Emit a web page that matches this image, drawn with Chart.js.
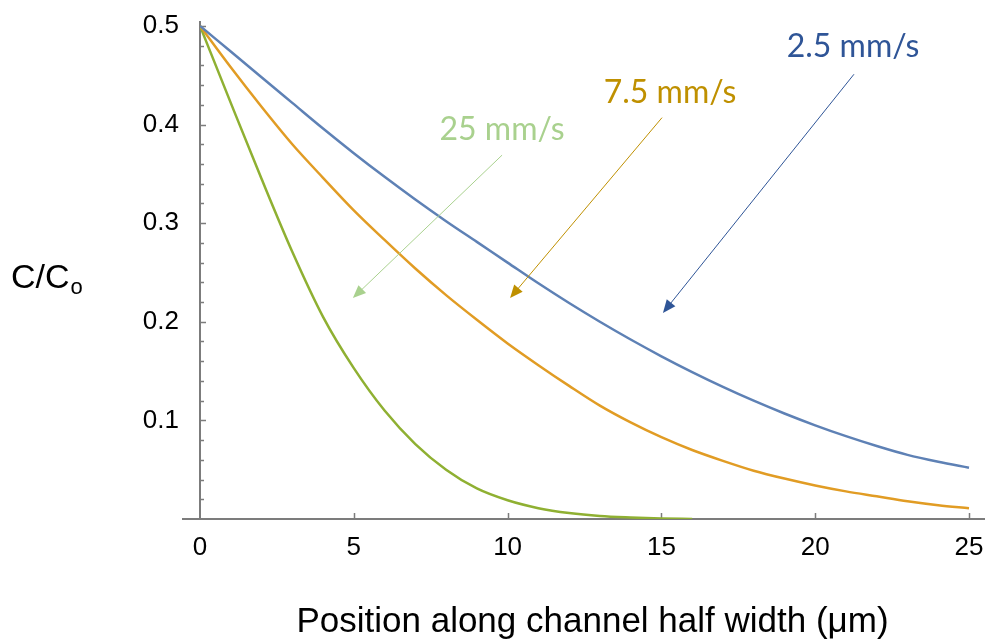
<!DOCTYPE html>
<html>
<head>
<meta charset="utf-8">
<script src="https://cdn.jsdelivr.net/npm/chart.js@4.4.1/dist/chart.umd.min.js"></script>
<style>
  html, body { margin: 0; padding: 0; background: #fff; }
  #wrap { width: 985px; height: 643px; position: relative; }
</style>
</head>
<body>
<div id="wrap"><canvas id="myChart"></canvas></div>
<script>
// position along channel half width (um)
var positions = [0, 1, 2, 3, 4, 5, 6, 7, 8, 9, 10, 11, 12, 13, 14, 15, 16, 17, 18, 19, 20, 21, 22, 23, 24, 25];

// C/Co for each flow speed
var slow = [0.5, 0.474, 0.448, 0.422, 0.396, 0.371, 0.347, 0.324, 0.302, 0.281, 0.260, 0.239, 0.219,
            0.200, 0.182, 0.165, 0.149, 0.134, 0.120, 0.107, 0.095, 0.084, 0.074, 0.065, 0.058, 0.052];   // 2.5 mm/s
var medium = [0.5, 0.458, 0.418, 0.380, 0.346, 0.313, 0.283, 0.254, 0.227, 0.202, 0.178, 0.156, 0.135,
              0.115, 0.098, 0.083, 0.070, 0.059, 0.049, 0.041, 0.034, 0.028, 0.023, 0.018, 0.014, 0.011]; // 7.5 mm/s
var fast = [0.5, 0.422, 0.345, 0.271, 0.205, 0.153, 0.110, 0.076, 0.050, 0.031, 0.019, 0.011, 0.006,
            0.003, 0.0015, 0.0005, 0];                                                                 // 25 mm/s

var xTickValues = [0, 5, 10, 15, 20, 25];
var yTickValues = [0.1, 0.2, 0.3, 0.4, 0.5];

var axisColor = '#7c7c7c';
var tickFont = '"Liberation Sans", Arial, sans-serif';

// callouts: text centre, arrow start and arrow tip in data units
var callouts = [
    { text: '2.5 mm/s', color: '#2F5597', at: [21.23, 0.479], from: [21.26, 0.451], to: [15.05, 0.209] },
    { text: '7.5 mm/s', color: '#BF9000', at: [15.28, 0.432], from: [15.02, 0.407], to: [10.08, 0.224] },
    { text: '25 mm/s', color: '#A9D18E', at: [9.82, 0.395], from: [9.82, 0.369], to: [4.97, 0.224] }
];

function toPoints(values) {
    return values.map(function(v, i) { return { x: positions[i], y: v }; });
}

var decor = {
    id: 'decor',
    beforeDatasetsDraw: function(chart) {
        var ctx = chart.ctx, x = chart.scales.x, y = chart.scales.y;
        var x0 = x.getPixelForValue(0), y0 = y.getPixelForValue(0);
        ctx.save();
        ctx.strokeStyle = axisColor;
        // little stub of the x axis left of the origin
        ctx.lineWidth = 2;
        ctx.beginPath();
        ctx.moveTo(x0 - 18, y0);
        ctx.lineTo(x0, y0);
        ctx.stroke();
        // inward ticks on the y axis, minor every 0.02
        ctx.lineWidth = 1.5;
        ctx.beginPath();
        for (var k = 1; k <= 25; k++) {
            var py = Math.round(y.getPixelForValue(k * 0.02)) + 0.5;
            var len = (k % 5 === 0) ? 6 : 4;
            ctx.moveTo(x0, py);
            ctx.lineTo(x0 + len, py);
        }
        xTickValues.forEach(function(v) {
            if (v === 0) return;
            var px = Math.round(x.getPixelForValue(v)) + 0.5;
            ctx.moveTo(px, y0);
            ctx.lineTo(px, y0 - 6);
        });
        ctx.stroke();
        ctx.restore();
    },
    afterDraw: function(chart) {
        var ctx = chart.ctx, x = chart.scales.x, y = chart.scales.y;
        ctx.save();

        // y title with subscript
        ctx.fillStyle = '#000';
        ctx.textBaseline = 'alphabetic';
        ctx.textAlign = 'left';
        ctx.font = '34px ' + tickFont;
        ctx.fillText('C/C', 11, 288);
        var w = ctx.measureText('C/C').width;
        ctx.font = '22px ' + tickFont;
        ctx.fillText('o', 11 + w + 1, 294);

        callouts.forEach(function(c) {
            var x1 = x.getPixelForValue(c.from[0]), y1 = y.getPixelForValue(c.from[1]);
            var x2 = x.getPixelForValue(c.to[0]), y2 = y.getPixelForValue(c.to[1]);
            var ang = Math.atan2(y2 - y1, x2 - x1);
            var head = 13, half = 5.5;
            ctx.strokeStyle = c.color;
            ctx.fillStyle = c.color;
            ctx.lineWidth = 1;
            ctx.beginPath();
            ctx.moveTo(x1, y1);
            ctx.lineTo(x2 - Math.cos(ang) * head * 0.8, y2 - Math.sin(ang) * head * 0.8);
            ctx.stroke();
            ctx.beginPath();
            ctx.moveTo(x2, y2);
            ctx.lineTo(x2 - Math.cos(ang) * head - Math.sin(ang) * half, y2 - Math.sin(ang) * head + Math.cos(ang) * half);
            ctx.lineTo(x2 - Math.cos(ang) * head + Math.sin(ang) * half, y2 - Math.sin(ang) * head - Math.cos(ang) * half);
            ctx.closePath();
            ctx.fill();

            ctx.font = '32px Lato, "Open Sans", sans-serif';
            ctx.textAlign = 'center';
            ctx.textBaseline = 'middle';
            ctx.fillText(c.text, x.getPixelForValue(c.at[0]), y.getPixelForValue(c.at[1]));
        });
        ctx.restore();
    }
};

document.addEventListener('DOMContentLoaded', function() {
    var ctx = document.getElementById('myChart').getContext('2d');

    var myChart = new Chart(ctx, {
        type: 'line',
        data: {
            datasets: [
                { label: '2.5 mm/s', data: toPoints(slow), borderColor: '#5E81B5', borderWidth: 2.5,
                  pointRadius: 0, cubicInterpolationMode: 'monotone' },
                { label: '7.5 mm/s', data: toPoints(medium), borderColor: '#E19C24', borderWidth: 2.5,
                  pointRadius: 0, cubicInterpolationMode: 'monotone' },
                { label: '25 mm/s', data: toPoints(fast), borderColor: '#8FB032', borderWidth: 2.5,
                  pointRadius: 0, cubicInterpolationMode: 'monotone' }
            ]
        },
        options: {
            responsive: true,
            maintainAspectRatio: false,
            animation: false,
            layout: { padding: { left: 0, top: 22, right: 0, bottom: 0 } },
            plugins: {
                legend: { display: false },
                tooltip: { enabled: false }
            },
            scales: {
                x: {
                    type: 'linear',
                    position: 'bottom',
                    min: 0,
                    max: 25.52,
                    afterBuildTicks: function(scale) {
                        scale.ticks = xTickValues.map(function(v) { return { value: v }; });
                    },
                    afterFit: function(scale) {
                        scale.height = 124;
                        scale.paddingLeft = 0;
                        scale.paddingRight = 0;
                    },
                    grid: { display: false, drawTicks: false },
                    border: { display: true, color: axisColor, width: 2 },
                    ticks: {
                        color: '#000',
                        font: { family: tickFont, size: 26 },
                        padding: 13,
                        maxRotation: 0,
                        autoSkip: false,
                        callback: function(v) { return String(v); }
                    },
                    title: {
                        display: true,
                        text: 'Position along channel half width (μm)',
                        color: '#000',
                        font: { family: tickFont, size: 35 },
                        padding: { top: 0, bottom: 0 }
                    }
                },
                y: {
                    type: 'linear',
                    position: 'left',
                    min: 0,
                    max: 0.504,
                    afterBuildTicks: function(scale) {
                        scale.ticks = yTickValues.map(function(v) { return { value: v }; });
                    },
                    afterFit: function(scale) {
                        scale.width = 200;
                        scale.paddingTop = 0;
                        scale.paddingBottom = 0;
                    },
                    grid: { display: false, drawTicks: false },
                    border: { display: true, color: axisColor, width: 2 },
                    ticks: {
                        color: '#000',
                        font: { family: tickFont, size: 26 },
                        padding: 21,
                        callback: function(v) { return v.toFixed(1); }
                    }
                }
            }
        },
        plugins: [decor]
    });
});
</script>
</body>
</html>
